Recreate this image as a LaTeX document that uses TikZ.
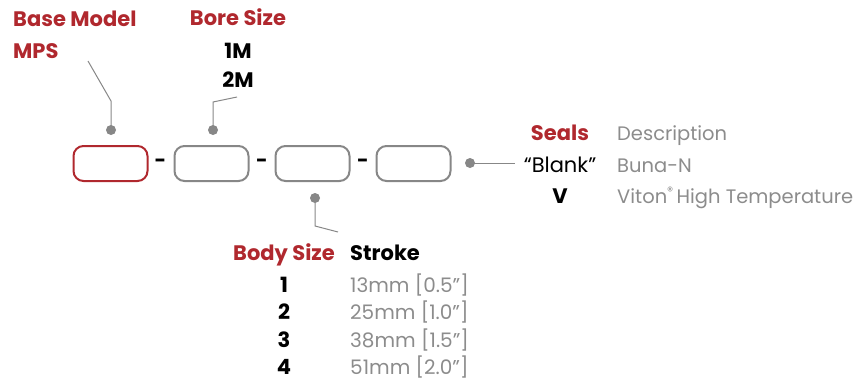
\documentclass[tikz,border=0pt]{standalone}
\usepackage{fontspec}
\setmainfont{Poppins}
\definecolor{brand}{HTML}{B0282E}
\definecolor{txtgray}{HTML}{8C8C8C}
\definecolor{linegray}{HTML}{878787}
\newcommand{\inchq}{\symbol{34}}
\begin{document}
\begin{tikzpicture}[x=1pt,y=-1pt,
  slot/.style={draw=linegray, line width=2pt, rounded corners=10pt, minimum width=74pt, minimum height=35pt, inner sep=0pt},
  head/.style={font=\fontsize{21}{21}\selectfont\bfseries, text=brand, inner sep=0pt},
  codetxt/.style={font=\fontsize{21}{21}\selectfont\bfseries, text=black, inner sep=0pt},
  desc/.style={font=\fontsize{19.5}{19.5}\selectfont, text=txtgray, inner sep=0pt},
  strokeval/.style={desc, font=\fontsize{20}{20}\selectfont},
  sep/.style={font=\fontsize{20}{20}\selectfont\bfseries, text=black, inner sep=0pt},
  pin/.style={circle, fill=linegray, minimum size=10pt, inner sep=0pt},
  lead/.style={draw=linegray, line width=1pt}]
\useasboundingbox (0,0) rectangle (859,386);
% slots
\node[slot, draw=brand] (b1) at (110.5,163.5) {};
\node[slot] (b2) at (211.5,163.5) {};
\node[slot] (b3) at (312.5,163.5) {};
\node[slot] (b4) at (413.5,163.5) {};
\node[sep] (d1) at (160.5,163.5) {-};
\node[sep] (d2) at (262,163.5) {-};
\node[sep] (d3) at (363,163.5) {-};
% pins
\node[pin] (p1) at (111,130) {};
\node[pin] (p2) at (213,130) {};
\node[pin] (p3) at (315,198) {};
\node[pin] (p4) at (470,163) {};
\coordinate (e1) at (88,61);
\coordinate (e2) at (237,97);
\coordinate (e3) at (338,232);
\coordinate (e4) at (515,163);
\draw[lead] (p1.center) -- (111,101) -- (e1);
\draw[lead] (p2.center) -- (213,102) -- (e2);
\draw[lead] (p3.center) -- (315,226) -- (e3);
\draw[lead] (p4.center) -- (e4);
% base model
\node[head, anchor=base west] (bm) at (13,26) {Base Model};
\node[head, anchor=base west] (mps) at (13,58) {MPS};
% bore size
\node[head, anchor=base] (bs) at (238,25) {Bore Size};
\node[codetxt, anchor=base] (c1m) at (238,58) {1M};
\node[codetxt, anchor=base] (c2m) at (238,87) {2M};
% seals
\node[head, anchor=base] (se) at (560,140) {Seals};
\node[desc, anchor=base west] (sd) at (617,140) {Description};
\node[font=\fontsize{21}{21}\selectfont, text=black, inner sep=0pt, anchor=base] (sbl) at (560,172) {“Blank”};
\node[desc, anchor=base west] (sbn) at (617,172) {Buna-N};
\node[codetxt, anchor=base] (sv) at (560,203) {V};
\node[desc, anchor=base west] (svt) at (617,203) {Viton\raisebox{0.38em}{\fontsize{12}{12}\selectfont ®}\,High Temperature};
% body size
\node[head, anchor=base] (bo) at (284,260) {Body Size};
\node[codetxt, anchor=base west, text=black] (st) at (350,260) {Stroke};
\node[codetxt, anchor=base] (n1) at (284,292) {1};
\node[strokeval, anchor=base west] (s1) at (350,292) {13mm [0.5\inchq]};
\node[codetxt, anchor=base] (n2) at (284,319) {2};
\node[strokeval, anchor=base west] (s2) at (350,319) {25mm [1.0\inchq]};
\node[codetxt, anchor=base] (n3) at (284,347) {3};
\node[strokeval, anchor=base west] (s3) at (350,347) {38mm [1.5\inchq]};
\node[codetxt, anchor=base] (n4) at (284,374) {4};
\node[strokeval, anchor=base west] (s4) at (350,374) {51mm [2.0\inchq]};
\end{tikzpicture}
\end{document}
